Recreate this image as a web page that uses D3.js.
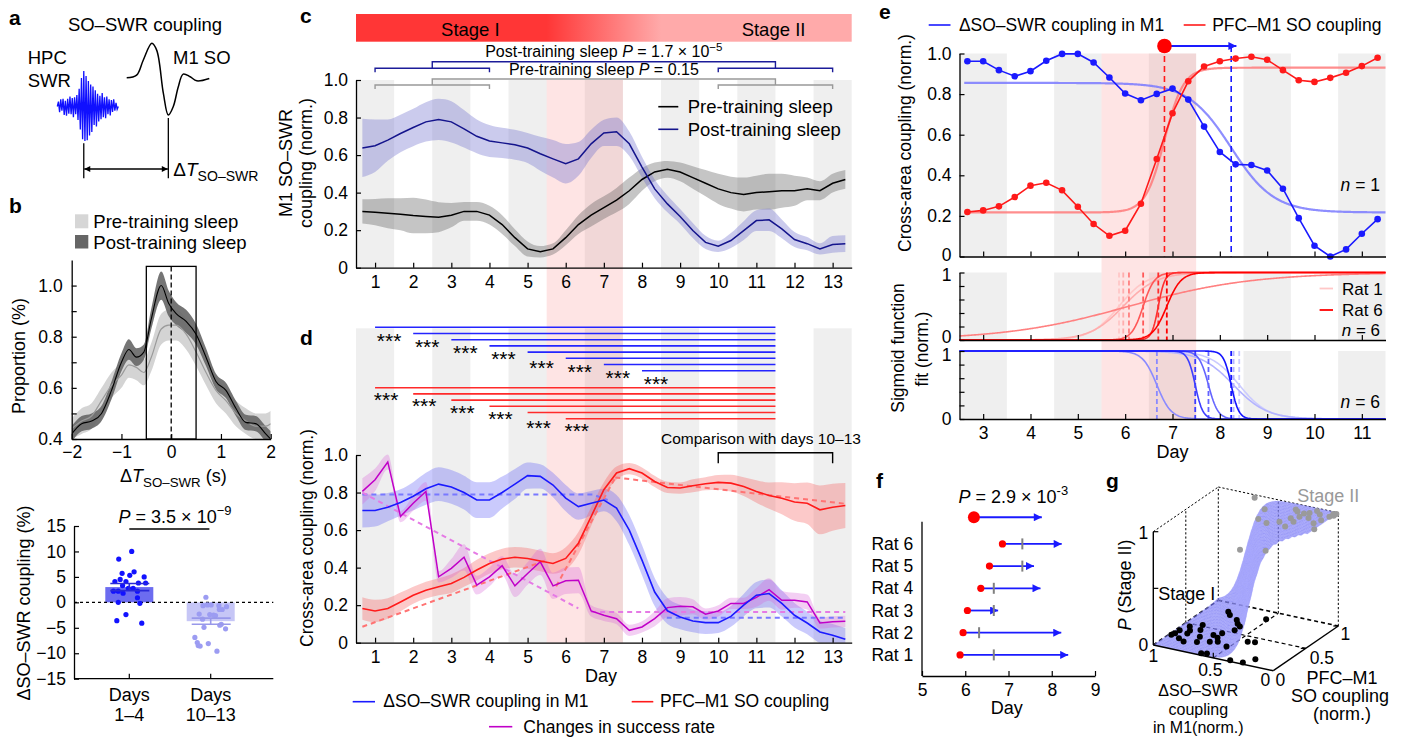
<!DOCTYPE html>
<html>
<head>
<meta charset="utf-8">
<script src="https://cdn.jsdelivr.net/npm/d3@7/dist/d3.min.js"></script>
<style>
html,body{margin:0;padding:0;background:#fff;}
svg{display:block;font-family:"Liberation Sans",Arial,Helvetica,sans-serif;}
</style>
</head>
<body>
<svg id="fig" width="1406" height="737" viewBox="0 0 1406 737"></svg>
<script>
// ======================= DATA =======================
// panel a (schematic traces)
const aSwrTrace = [0,0.14,-0.16,0.2,-0.12,0.22,-0.24,0.16,-0.26,0.22,-0.2,0.28,-0.22,0.24,-0.3,0.26,-0.22,0.32,-0.38,0.5,-0.65,0.8,-0.92,1.0,-0.97,0.86,-0.95,0.72,-0.82,0.62,-0.72,0.56,-0.52,0.46,-0.56,0.36,-0.42,0.3,-0.36,0.38,-0.3,0.26,-0.33,0.28,-0.22,0.2,-0.25,0.18,-0.15,0.2,-0.12,0.1,-0.08,0];
const aSoT = [0,30,50,76,91,111,126,141,156,171,192,212,250];
const aSoV = [-0.02,0.06,0.5,1.0,0.79,-0.48,-1.12,-0.87,-0.29,0.09,0.01,-0.11,-0.04];

// panel b (top)
const bX      = [-2,-1.8,-1.6,-1.4,-1.2,-1.0,-0.85,-0.7,-0.55,-0.4,-0.2,-0.05,0.1,0.3,0.5,0.7,0.9,1.1,1.3,1.5,1.7,1.9,2.0];
const bPost   = [0.42,0.46,0.47,0.50,0.59,0.70,0.75,0.72,0.74,0.87,1.00,0.93,0.89,0.86,0.81,0.72,0.625,0.59,0.52,0.465,0.46,0.42,0.40];
const bPostSE = [0.03,0.03,0.03,0.03,0.035,0.035,0.04,0.035,0.03,0.04,0.055,0.05,0.045,0.045,0.04,0.035,0.03,0.03,0.03,0.03,0.03,0.03,0.03];
const bPre    = [0.44,0.47,0.49,0.55,0.61,0.65,0.69,0.68,0.66,0.72,0.83,0.845,0.845,0.81,0.74,0.66,0.59,0.55,0.50,0.47,0.45,0.45,0.46];
const bPreSE  = [0.04,0.05,0.05,0.05,0.05,0.05,0.05,0.05,0.05,0.055,0.06,0.06,0.06,0.06,0.055,0.05,0.05,0.05,0.05,0.05,0.05,0.05,0.05];
// panel b (bottom)
const bCats  = ["Days 1–4","Days 10–13"];
const bMeans = [3.0,-3.7];
const bSE    = [0.7,0.6];
const bDots1 = [10.0,8.5,5.7,6.0,5.3,5.0,4.5,4.1,4.1,3.8,3.8,3.3,2.75,2.75,2.2,2.2,2.2,1.8,0.9,0.0,-0.2,-2.4,-3.6,-4.1];
const bJit1  = [0.05,-0.22,-0.15,0.10,0.01,0.31,-0.19,-0.30,-0.07,0.19,0.34,-0.14,-0.02,0.08,-0.33,-0.23,0.17,-0.13,0.17,-0.23,0.22,-0.07,-0.26,0.26];
const bDots2 = [1.0,-0.65,-0.5,-0.5,-0.65,-0.85,-1.4,-1.4,-2.3,-2.5,-2.6,-2.4,-4.3,-5.2,-4.9,-6.9,-7.9,-8.5,-8.6,-8.1,-9.6,-3.3,-4.5];
const bJit2  = [-0.10,-0.16,-0.07,0.01,0.17,0.33,0.24,0.18,-0.24,0.06,0.10,-0.02,0.22,0.31,-0.14,-0.33,-0.28,-0.26,-0.22,-0.05,0.13,-0.17,0.19];

// panels c and d: sampled every third of a day
const cdDays = [0.667,1,1.333,1.667,2,2.333,2.667,3,3.333,3.667,4,4.333,4.667,5,5.333,5.667,6,6.333,6.667,7,7.333,7.667,8,8.333,8.667,9,9.333,9.667,10,10.333,10.667,11,11.333,11.667,12,12.333,12.667,13,13.333];
const dayTicks = [1,2,3,4,5,6,7,8,9,10,11,12,13];
const oddDays  = [1,3,5,7,9,11,13];
const cPre    = [0.30,0.296,0.29,0.285,0.278,0.273,0.269,0.28,0.30,0.30,0.28,0.23,0.16,0.10,0.085,0.10,0.16,0.23,0.28,0.32,0.36,0.41,0.47,0.51,0.524,0.51,0.48,0.45,0.42,0.40,0.39,0.40,0.405,0.41,0.41,0.42,0.41,0.45,0.47];
const cPreSE  = [0.065,0.07,0.08,0.085,0.095,0.09,0.08,0.065,0.05,0.05,0.05,0.05,0.045,0.04,0.03,0.03,0.04,0.05,0.06,0.06,0.065,0.07,0.06,0.05,0.045,0.05,0.06,0.07,0.08,0.085,0.09,0.09,0.095,0.09,0.08,0.06,0.05,0.05,0.05];
const cPost   = [0.638,0.65,0.68,0.715,0.747,0.777,0.79,0.777,0.74,0.70,0.675,0.665,0.655,0.638,0.607,0.58,0.554,0.58,0.66,0.718,0.724,0.66,0.536,0.42,0.34,0.273,0.198,0.135,0.114,0.145,0.198,0.251,0.255,0.207,0.15,0.128,0.10,0.124,0.128];
const cPostSE = [0.155,0.14,0.11,0.1,0.1,0.105,0.11,0.11,0.1,0.09,0.085,0.08,0.08,0.08,0.09,0.1,0.105,0.09,0.075,0.07,0.076,0.065,0.055,0.05,0.045,0.04,0.04,0.035,0.03,0.04,0.05,0.055,0.06,0.05,0.04,0.035,0.03,0.045,0.045];

const dSwr    = [0.704,0.704,0.722,0.747,0.78,0.82,0.845,0.83,0.80,0.76,0.76,0.80,0.845,0.89,0.886,0.84,0.77,0.725,0.743,0.76,0.717,0.60,0.44,0.27,0.17,0.137,0.116,0.107,0.107,0.14,0.20,0.253,0.262,0.209,0.146,0.105,0.057,0.04,0.018];
const dSwrSE  = [0.09,0.085,0.075,0.07,0.075,0.085,0.09,0.09,0.09,0.095,0.095,0.085,0.08,0.07,0.065,0.065,0.07,0.07,0.065,0.06,0.07,0.08,0.08,0.075,0.07,0.065,0.06,0.06,0.055,0.055,0.06,0.07,0.075,0.07,0.065,0.06,0.06,0.06,0.06];
const dPfc    = [0.182,0.169,0.182,0.217,0.253,0.28,0.298,0.315,0.348,0.387,0.422,0.446,0.455,0.449,0.435,0.422,0.449,0.53,0.672,0.815,0.904,0.927,0.904,0.859,0.827,0.824,0.836,0.847,0.854,0.85,0.832,0.806,0.784,0.77,0.75,0.743,0.708,0.722,0.731];
const dPfcSE  = [0.06,0.06,0.055,0.05,0.045,0.045,0.045,0.05,0.05,0.055,0.055,0.055,0.055,0.055,0.055,0.055,0.06,0.06,0.05,0.04,0.035,0.03,0.03,0.03,0.03,0.03,0.035,0.035,0.04,0.045,0.05,0.06,0.07,0.085,0.1,0.11,0.13,0.125,0.12];
const dSucc   = [0.806,0.868,0.963,0.672,0.743,0.806,0.351,0.396,0.455,0.307,0.351,0.41,0.303,0.369,0.431,0.303,0.33,0.333,0.169,0.146,0.128,0.066,0.084,0.128,0.187,0.194,0.191,0.152,0.169,0.209,0.209,0.241,0.283,0.226,0.226,0.217,0.105,0.111,0.114];
const dSuccSE = [0.07,0.06,0.04,0.03,0.04,0.05,0.03,0.05,0.07,0.05,0.05,0.05,0.06,0.06,0.07,0.07,0.07,0.07,0.03,0.03,0.03,0.03,0.03,0.04,0.05,0.05,0.04,0.03,0.03,0.03,0.03,0.05,0.06,0.05,0.04,0.04,0.03,0.03,0.03];
// piecewise linear fits (dashed) in d: [day, value] segments
const dSwrFit  = [[[0.667,0.79],[6.7,0.79],[7.1,0.76]], [[8.65,0.133],[13.333,0.133]]];
const dSuccFit = [[[0.667,0.80],[6.33,0.183]], [[6.667,0.163],[13.333,0.163]]];
const dPfcFit  = [[[0.667,0.085],[5.5,0.44]], [[5.75,0.30],[7.3,0.88]], [[7.3,0.88],[13.333,0.74]]];
// significance comparisons (start day -> day 11.5)
const dSigSwrStart = [1,2,3,4,5,6,7,8];
const dSigPfcStart = [1,2,3,4,5,6];
const dSigEnd = 11.5;

// panel e
const eDays = [2.667,3,3.333,3.667,4,4.333,4.667,5,5.333,5.667,6,6.333,6.667,7,7.333,7.667,8,8.333,8.667,9,9.333,9.667,10,10.333,10.667,11,11.333];
const eSwr  = [0.962,0.962,0.918,0.888,0.913,0.964,0.998,0.998,0.956,0.882,0.803,0.770,0.801,0.827,0.773,0.640,0.515,0.454,0.451,0.424,0.334,0.189,0.053,0.0,0.035,0.112,0.184];
const ePfc  = [0.219,0.227,0.247,0.293,0.349,0.363,0.326,0.245,0.160,0.102,0.127,0.260,0.480,0.706,0.863,0.936,0.962,0.975,0.984,0.969,0.918,0.868,0.860,0.880,0.905,0.938,0.979];
const eSwrFit = {hi:0.855, lo:0.217, mid:8.24, s:0.45};
const ePfcFit = {lo:0.217, hi:0.93, mid:6.83, s:0.2};
const eTicks = [3,4,5,6,7,8,9,10,11];
const eOddDays = [3,5,7,9,11];
const ratRedMid  = [5.87,5.96,6.08,6.38,6.70,6.88];
const ratRedS    = [0.3,0.35,1.3,0.12,0.07,0.15];
const ratBlueMid = [8.41,8.29,6.67,7.76,7.48,8.24];
const ratBlueS   = [0.3,0.35,0.15,0.1,0.08,0.08];
const ratShade   = [0.22,0.32,0.5,0.66,0.82,1.0];

// panel f
const fRats   = ["Rat 1","Rat 2","Rat 3","Rat 4","Rat 5","Rat 6"];
const fOnset  = [5.88,5.95,6.05,6.36,6.56,6.86];
const fMarker = [6.66,6.32,6.66,6.66,7.32,7.32];
const fEnd    = [8.38,8.22,6.76,7.74,7.59,8.23];
const fSumOnset = 6.2, fSumEnd = 7.77;

// panel g: (ΔSO–SWR u, PFC–M1 v, P)
const gStage1U = [0.98,0.97,0.94,0.78,0.71,0.83,0.70,0.37,0.22,0.52,0.43,0.38,0.27,0.62,0.58,0.75,0.84,0.67,0.62,0.79,0.87,0.67,0.52,0.89,0.97,0.62,0.84,0.66,0.90,0.66,0.62,0.90];
const gStage1V = [0.24,0.35,0.45,0.31,0.39,0.84,0.73,0.02,0.13,0.85,0.40,0.42,0.03,0.29,0.05,0.21,0.17,0.45,0.55,0.79,0.52,0.26,0.24,0.32,0.28,0.63,0.43,0.36,0.21,0.67,0.035,0.38];
const gStage2U = [0.67,0.27,0.0,0.29,0.0,0.18,0.2,0.21,0.04,0.02,0.0,0.02,0.21,0.25,0.21,0.14,0.06,0.5,0.36,0.7,0.53,0.3,0.1,0.15,0.45];
const gStage2V = [0.95,0.87,0.93,0.63,0.63,0.89,0.68,0.86,0.81,0.90,0.97,0.96,0.79,0.73,0.57,0.80,0.73,0.79,0.56,0.78,0.86,0.9,0.9,0.95,0.6];
const gStage2P = [1,1,1,1,1,1,1,1,1,1,1,1,1,1,1,1,1,1,1,0.6,0.6,1,1,1,1];
const gFit = {u0:0.2, du:0.57, w:0.06};

// ======================= DRAWING =======================
const svg = d3.select("#fig");
const defs = svg.append("defs");
const BLUE = "#1a1aff", RED = "#ff1a1a", MAG = "#c000c8", NAVY = "#14148c";

function marker(id, color, w, h){
  defs.append("marker").attr("id",id).attr("viewBox","0 0 10 10").attr("refX",10).attr("refY",5)
    .attr("markerWidth",w).attr("markerHeight",h).attr("markerUnits","userSpaceOnUse")
    .attr("orient","auto-start-reverse")
    .append("path").attr("d","M0,0L10,5L0,10z").attr("fill",color);
}
marker("arB", BLUE, 11, 8);
marker("arK", "#000", 8, 6);

function rich(parent, x, y, parts, o={}){
  const fs = o.size||17;
  const t = parent.append("text").attr("x",x).attr("y",y).attr("font-size",fs)
    .attr("text-anchor",o.anchor||"start").attr("fill",o.fill||"#000");
  if (o.weight) t.attr("font-weight",o.weight);
  if (o.rotate) t.attr("transform",`rotate(${o.rotate},${x},${y})`);
  let shift = 0;
  parts.forEach(p=>{
    if (typeof p === "string") p = {t:p};
    const s = t.append("tspan").text(p.t);
    const target = p.sup ? -0.42*fs : p.sub ? 0.28*fs : 0;
    if (target !== shift){ s.attr("dy", target-shift); shift = target; }
    if (p.it) s.attr("font-style","italic");
    if (p.sup || p.sub) s.attr("font-size", fs*(p.sub?0.74:0.72));
  });
  return t;
}
function styleAxis(g, fs=17){
  g.attr("font-family",null).attr("font-size",fs);
  g.select(".domain").attr("stroke","#000").attr("stroke-width",1.3);
  g.selectAll(".tick line").attr("stroke","#000").attr("stroke-width",1.2);
  g.selectAll(".tick text").attr("fill","#000");
  return g;
}
function clip(id,x,y,w,h){ defs.append("clipPath").attr("id",id).append("rect").attr("x",x).attr("y",y).attr("width",w).attr("height",h); }
const fmt1 = d => d===0 ? "0" : d.toFixed(1);

// panel letters
[["a",9,25],["b",9,213],["c",300,23],["d",300,345],["e",879,19],["f",876,488],["g",1106,488]].forEach(([l,x,y])=>{
  svg.append("text").attr("x",x).attr("y",y).attr("font-size",21).attr("font-weight","bold").text(l);
});

// ---------------- Panel a ----------------
{
  const g = svg.append("g");
  rich(g,145,30.7,["SO–SWR coupling"],{size:18.5,anchor:"middle"});
  rich(g,27.7,64,["HPC"],{size:18.5});
  rich(g,27.7,87.3,["SWR"],{size:18.5});
  rich(g,173,64,["M1 SO"],{size:18.5});
  const sx = d3.scaleLinear().domain([0,aSwrTrace.length-1]).range([57.3,118.3]);
  const sy = d3.scaleLinear().domain([-1,1]).range([142,71]);
  g.append("path").attr("d",d3.line().x((d,i)=>sx(i)).y(d=>sy(d))(aSwrTrace))
    .attr("fill","none").attr("stroke","#1010ff").attr("stroke-width",1.3);
  const ox = d3.scaleLinear().domain([0,250]).range([126.7,209.3]);
  const oy = d3.scaleLinear().domain([-1.12,1]).range([115,43.3]);
  g.append("path").attr("d",d3.line().x((d,i)=>ox(aSoT[i])).y(d=>oy(d)).curve(d3.curveCatmullRom)(aSoV))
    .attr("fill","none").attr("stroke","#000").attr("stroke-width",1.5);
  const xPeak = sx(aSwrTrace.indexOf(1.0)), xTr = ox(aSoT[aSoV.indexOf(-1.12)]);
  g.append("line").attr("x1",xPeak).attr("x2",xPeak).attr("y1",143.3).attr("y2",178.3).attr("stroke","#000").attr("stroke-width",1.3);
  g.append("line").attr("x1",xTr).attr("x2",xTr).attr("y1",118).attr("y2",178.3).attr("stroke","#000").attr("stroke-width",1.3);
  g.append("line").attr("x1",xPeak+0.5).attr("x2",xTr-0.5).attr("y1",169).attr("y2",169).attr("stroke","#000").attr("stroke-width",1.3)
    .attr("marker-start","url(#arK)").attr("marker-end","url(#arK)");
  rich(g,173.3,175.5,["Δ",{t:"T",it:true},{t:"SO–SWR",sub:true}],{size:19});
}

// ---------------- Panel b (top) ----------------
{
  const g = svg.append("g");
  const x = d3.scaleLinear().domain([-2,2]).range([71.7,270.7]);
  const y = d3.scaleLinear().domain([0.4,1.1]).range([439,260]);
  clip("clipB",71.7,260,199,179);
  g.append("rect").attr("x",75).attr("y",214.3).attr("width",13.3).attr("height",14).attr("fill","#d6d6d6");
  g.append("rect").attr("x",75).attr("y",235).attr("width",13.3).attr("height",13.5).attr("fill","#666");
  rich(g,93.3,227.7,["Pre-training sleep"],{size:18.5});
  rich(g,93.3,249,["Post-training sleep"],{size:18.5});
  const idx = d3.range(bX.length);
  const pg = g.append("g").attr("clip-path","url(#clipB)");
  pg.append("path").attr("d",d3.area().x(i=>x(bX[i])).y0(i=>y(bPre[i]-bPreSE[i])).y1(i=>y(bPre[i]+bPreSE[i])).curve(d3.curveMonotoneX)(idx)).attr("fill","#d4d4d4");
  pg.append("path").attr("d",d3.area().x(i=>x(bX[i])).y0(i=>y(bPost[i]-bPostSE[i])).y1(i=>y(bPost[i]+bPostSE[i])).curve(d3.curveMonotoneX)(idx)).attr("fill","#666").attr("opacity",0.9);
  pg.append("path").attr("d",d3.line().x(i=>x(bX[i])).y(i=>y(bPre[i])).curve(d3.curveMonotoneX)(idx)).attr("fill","none").attr("stroke","#9a9a9a").attr("stroke-width",1.2);
  pg.append("path").attr("d",d3.line().x(i=>x(bX[i])).y(i=>y(bPost[i])).curve(d3.curveMonotoneX)(idx)).attr("fill","none").attr("stroke","#000").attr("stroke-width",1.1);
  g.append("rect").attr("x",x(-0.5)).attr("y",y(1.075)).attr("width",x(0.5)-x(-0.5)).attr("height",y(0.4)-y(1.075))
    .attr("fill","none").attr("stroke","#000").attr("stroke-width",1.3);
  g.append("line").attr("x1",x(0)).attr("x2",x(0)).attr("y1",y(1.075)).attr("y2",y(0.4)).attr("stroke","#000").attr("stroke-width",1.3).attr("stroke-dasharray","5,3");
  styleAxis(g.append("g").attr("transform","translate(0,439)").call(d3.axisBottom(x).tickValues([-2,-1,0,1,2]).tickSizeInner(-5).tickSizeOuter(0).tickPadding(7).tickFormat(d3.format("d"))),17.5);
  styleAxis(g.append("g").attr("transform","translate(71.7,0)").call(d3.axisLeft(y).tickValues([0.4,0.5,0.6,0.7,0.8,0.9,1.0]).tickSizeInner(-5).tickSizeOuter(0).tickPadding(9).tickFormat(d=>Math.round(d*10)%2===0?d.toFixed(1):"")),17.5);
  rich(g,25,356,["Proportion (%)"],{size:18,anchor:"middle",rotate:-90});
  rich(g,120,481.7,["Δ",{t:"T",it:true},{t:"SO–SWR",sub:true},{t:" (s)"}],{size:18});
}

// ---------------- Panel b (bottom) ----------------
{
  const g = svg.append("g");
  const y = d3.scaleLinear().domain([-15,15]).range([678.7,526]);
  const xc = d3.scaleLinear().domain([0,1]).range([129.3,210.7]);
  const bw = 48;
  const fills = ["#6c6cf0","#c6c6f6"], ebc = ["#2a2ad8","#9898ea"], dotc = ["#1212ff","#9c9cf2"];
  bMeans.forEach((m,i)=>{
    g.append("rect").attr("x",xc(i)-bw/2).attr("width",bw).attr("y",Math.min(y(0),y(m))).attr("height",Math.abs(y(m)-y(0))).attr("fill",fills[i]);
  });
  g.append("line").attr("x1",74).attr("x2",273.3).attr("y1",y(0)).attr("y2",y(0)).attr("stroke","#000").attr("stroke-width",1.3).attr("stroke-dasharray","3,3");
  [[bDots1,bJit1],[bDots2,bJit2]].forEach(([vals,jit],i)=>{
    vals.forEach((v,k)=>g.append("circle").attr("cx",xc(i)+jit[k]*bw).attr("cy",y(v)).attr("r",2.6).attr("fill",dotc[i]));
  });
  bMeans.forEach((m,i)=>{
    const lo=m-bSE[i], hi=m+bSE[i];
    g.append("line").attr("x1",xc(i)).attr("x2",xc(i)).attr("y1",y(lo)).attr("y2",y(hi)).attr("stroke",ebc[i]).attr("stroke-width",1.6);
    [lo,hi].forEach(v=>g.append("line").attr("x1",xc(i)-19).attr("x2",xc(i)+20).attr("y1",y(v)).attr("y2",y(v)).attr("stroke",ebc[i]).attr("stroke-width",1.6));
  });
  styleAxis(g.append("g").attr("transform","translate(74,0)").call(d3.axisLeft(y).tickValues([-15,-10,-5,0,5,10,15]).tickSizeInner(-5).tickSizeOuter(0).tickPadding(8).tickFormat(d3.format("d"))),17.5);
  const ax = g.append("g").attr("transform","translate(0,678.7)");
  ax.append("line").attr("x1",74).attr("x2",273.3).attr("stroke","#000").attr("stroke-width",1.3);
  bCats.forEach((c,i)=>{
    ax.append("line").attr("x1",xc(i)).attr("x2",xc(i)).attr("y1",0).attr("y2",-5).attr("stroke","#000").attr("stroke-width",1.2);
    const parts = c.split(" ");
    rich(g,xc(i),700.7,[parts[0]],{size:18,anchor:"middle"});
    rich(g,xc(i),720.7,[parts[1]],{size:18,anchor:"middle"});
  });
  g.append("line").attr("x1",xc(0)).attr("x2",xc(1)-1.3).attr("y1",529).attr("y2",529).attr("stroke","#000").attr("stroke-width",1.3);
  rich(g,175,522.7,[{t:"P",it:true}," = 3.5 × 10",{t:"−9",sup:true}],{size:18,anchor:"middle"});
  rich(g,30,603,["ΔSO–SWR coupling (%)"],{size:18,anchor:"middle",rotate:-90});
}

// ---------------- Panels c & d ----------------
const cX = d3.scaleLinear().domain([0.5,13.5]).range([356,851.7]);
const cY = d3.scaleLinear().domain([0,1]).range([267.7,80]);
const dY = d3.scaleLinear().domain([0,1]).range([642.7,455]);
{
  const g = svg.append("g");
  oddDays.forEach(d=>{
    g.append("rect").attr("x",cX(d-0.5)).attr("width",cX(d+0.5)-cX(d-0.5)).attr("y",80).attr("height",267.7-80).attr("fill","#efefef");
    g.append("rect").attr("x",cX(d-0.5)).attr("width",cX(d+0.5)-cX(d-0.5)).attr("y",328.3).attr("height",642.7-328.3).attr("fill","#efefef");
  });
  g.append("rect").attr("x",cX(5.5)).attr("width",cX(7.5)-cX(5.5)).attr("y",80).attr("height",642.7-80).attr("fill","rgb(250,120,120)").attr("opacity",0.2);
  const sOff = v => (cX(v)-cX(0.5))/(cX(13.5)-cX(0.5));
  const grad = defs.append("linearGradient").attr("id","stageGrad").attr("x1",0).attr("x2",1).attr("y1",0).attr("y2",0);
  grad.append("stop").attr("offset",0).attr("stop-color","#ff3636");
  grad.append("stop").attr("offset",sOff(5.5)).attr("stop-color","#ff3636");
  grad.append("stop").attr("offset",sOff(8.5)).attr("stop-color","#ffaaaa");
  grad.append("stop").attr("offset",1).attr("stop-color","#ffaaaa");
  g.append("rect").attr("x",cX(0.5)).attr("width",cX(13.5)-cX(0.5)).attr("y",14).attr("height",27.7).attr("fill","url(#stageGrad)");
  rich(g,cX(3.5),35.5,["Stage I"],{size:18.5,anchor:"middle"});
  rich(g,cX(11.45),35.5,["Stage II"],{size:18.5,anchor:"middle"});
  function bracket(yS,yM,col){
    const t=4;
    [[1,4],[10,13]].forEach(([a,b])=>{
      g.append("path").attr("d",`M${cX(a)},${yS+t}V${yS}H${cX(b)}V${yS+t}`).attr("fill","none").attr("stroke",col).attr("stroke-width",1.4);
    });
    g.append("path").attr("d",`M${cX(2.5)},${yS}V${yM}H${cX(11.5)}V${yS}`).attr("fill","none").attr("stroke",col).attr("stroke-width",1.4);
  }
  bracket(68.3,61.7,"#1c1c99");
  bracket(85,79,"#999");
  rich(g,cX(7),57.3,["Post-training sleep ",{t:"P",it:true}," = 1.7 × 10",{t:"−5",sup:true}],{size:16,anchor:"middle"});
  rich(g,cX(7),75,["Pre-training sleep ",{t:"P",it:true}," = 0.15"],{size:16,anchor:"middle"});

  clip("clipC",356,80,495.7,187.7);
  const pc = g.append("g").attr("clip-path","url(#clipC)");
  const idx = d3.range(cdDays.length);
  const band = (sc,m,se)=>d3.area().x(i=>cX(cdDays[i])).y0(i=>sc(m[i]-se[i])).y1(i=>sc(m[i]+se[i])).curve(d3.curveMonotoneX)(idx);
  const ln = (sc,m)=>d3.line().x(i=>cX(cdDays[i])).y(i=>sc(m[i]))(idx);
  pc.append("path").attr("d",band(cY,cPre,cPreSE)).attr("fill","rgb(90,90,90)").attr("opacity",0.35);
  pc.append("path").attr("d",band(cY,cPost,cPostSE)).attr("fill","rgb(110,110,205)").attr("opacity",0.36);
  pc.append("path").attr("d",ln(cY,cPre)).attr("fill","none").attr("stroke","#000").attr("stroke-width",1.5);
  pc.append("path").attr("d",ln(cY,cPost)).attr("fill","none").attr("stroke",NAVY).attr("stroke-width",1.5);
  g.append("line").attr("x1",658.3).attr("x2",678.3).attr("y1",106.7).attr("y2",106.7).attr("stroke","#000").attr("stroke-width",1.6);
  g.append("line").attr("x1",658.3).attr("x2",678.3).attr("y1",129.3).attr("y2",129.3).attr("stroke",NAVY).attr("stroke-width",1.6);
  rich(g,687.7,113.3,["Pre-training sleep"],{size:18.5});
  rich(g,687.7,136,["Post-training sleep"],{size:18.5});
  styleAxis(g.append("g").attr("transform","translate(0,267.7)").call(d3.axisBottom(cX).tickValues(dayTicks).tickSizeInner(-5).tickSizeOuter(0).tickPadding(7.5).tickFormat(d3.format("d"))),17.5);
  styleAxis(g.append("g").attr("transform","translate(356,0)").call(d3.axisLeft(cY).tickValues([0,0.2,0.4,0.6,0.8,1]).tickSizeInner(-5).tickSizeOuter(0).tickPadding(8).tickFormat(fmt1)),17.5);
  rich(g,291.7,163,["M1 SO–SWR"],{size:18,anchor:"middle",rotate:-90});
  rich(g,311.5,163,["coupling (norm.)"],{size:18,anchor:"middle",rotate:-90});

  const swrY0 = 327.3, swrStep = 6.2, pfcY0 = 387.7, pfcStep = 6.2;
  dSigSwrStart.forEach((s,k)=>{
    const yy = swrY0 + k*swrStep;
    g.append("line").attr("x1",cX(s)).attr("x2",cX(dSigEnd)).attr("y1",yy).attr("y2",yy).attr("stroke","#2424ff").attr("stroke-width",1.6);
    rich(g,cX(s)+14,yy+20.5+(k===4?2.5:0),["***"],{size:21,anchor:"middle"});
  });
  dSigPfcStart.forEach((s,k)=>{
    const yy = pfcY0 + k*pfcStep;
    g.append("line").attr("x1",cX(s)).attr("x2",cX(dSigEnd)).attr("y1",yy).attr("y2",yy).attr("stroke","#ff2a2a").attr("stroke-width",1.6);
    rich(g,cX(s)+11,yy+19.5+(k===4?2.5:0),["***"],{size:21,anchor:"middle"});
  });
  g.append("path").attr("d",`M${cX(10)},463.3V452.7H${cX(13)}V463.3`).attr("fill","none").attr("stroke","#000").attr("stroke-width",1.4);
  rich(g,661,444,["Comparison with days 10–13"],{size:15.5});

  clip("clipD",356,328.3,495.7,314.4);
  const pd = g.append("g").attr("clip-path","url(#clipD)");
  pd.append("path").attr("d",band(dY,dSwr,dSwrSE)).attr("fill","rgb(95,95,245)").attr("opacity",0.33);
  pd.append("path").attr("d",band(dY,dPfc,dPfcSE)).attr("fill","rgb(245,90,90)").attr("opacity",0.33);
  pd.append("path").attr("d",band(dY,dSucc,dSuccSE)).attr("fill","rgb(215,95,215)").attr("opacity",0.3);
  const fitLine = d3.line().x(d=>cX(d[0])).y(d=>dY(d[1]));
  [[dSwrFit,"#7878ff"],[dSuccFit,"#e57ae5"],[dPfcFit,"#ff7373"]].forEach(([segs,col])=>{
    segs.forEach(s=>pd.append("path").attr("d",fitLine(s)).attr("fill","none").attr("stroke",col).attr("stroke-width",2).attr("stroke-dasharray","5,4"));
  });
  pd.append("path").attr("d",ln(dY,dSucc)).attr("fill","none").attr("stroke",MAG).attr("stroke-width",1.5);
  pd.append("path").attr("d",ln(dY,dPfc)).attr("fill","none").attr("stroke",RED).attr("stroke-width",1.6);
  pd.append("path").attr("d",ln(dY,dSwr)).attr("fill","none").attr("stroke",BLUE).attr("stroke-width",1.6);
  styleAxis(g.append("g").attr("transform","translate(0,642.7)").call(d3.axisBottom(cX).tickValues(dayTicks).tickSizeInner(-5).tickSizeOuter(0).tickPadding(8).tickFormat(d3.format("d"))),17.5);
  styleAxis(g.append("g").attr("transform","translate(356,0)").call(d3.axisLeft(dY).tickValues([0,0.2,0.4,0.6,0.8,1]).tickSizeInner(-5).tickSizeOuter(0).tickPadding(8).tickFormat(fmt1)),17.5);
  rich(g,601,681.7,["Day"],{size:18,anchor:"middle"});
  rich(g,313,538,["Cross-area coupling (norm.)"],{size:17.5,anchor:"middle",rotate:-90});
  [[352.7,375,701.7,BLUE,383.3,707.3,"ΔSO–SWR coupling in M1"],[631.7,653.3,701.7,RED,660,707.3,"PFC–M1 SO coupling"],[489,512.3,726.7,MAG,523.3,733,"Changes in success rate"]].forEach(([x1,x2,yy,col,tx,ty,lab])=>{
    g.append("line").attr("x1",x1).attr("x2",x2).attr("y1",yy).attr("y2",yy).attr("stroke",col).attr("stroke-width",1.6);
    rich(g,tx,ty,[lab],{size:17.5});
  });
}

// ---------------- Panel e ----------------
{
  const g = svg.append("g");
  const x = d3.scaleLinear().domain([2.5,11.5]).range([959.5,1385.5]);
  const yT = d3.scaleLinear().domain([0,1]).range([256.5,53.5]);
  const yM = d3.scaleLinear().domain([0,1]).range([340,272.5]);
  const yB = d3.scaleLinear().domain([0,1]).range([419,351]);
  [[53.5,256.5],[272.5,340],[351,419]].forEach(([t,b])=>{
    eOddDays.forEach(d=>g.append("rect").attr("x",x(d-0.5)).attr("width",x(d+0.5)-x(d-0.5)).attr("y",t).attr("height",b-t).attr("fill","#efefef"));
  });
  g.append("rect").attr("x",x(5.5)).attr("width",x(7.5)-x(5.5)).attr("y",53.5).attr("height",419-53.5).attr("fill","rgb(250,120,120)").attr("opacity",0.2);
  const fitDays = d3.range(2.6,11.5001,0.02);
  const sigUp = (p,d)=>p.lo+(p.hi-p.lo)/(1+Math.exp(-(d-p.mid)/p.s));
  const sigDn = (p,d)=>p.lo+(p.hi-p.lo)/(1+Math.exp((d-p.mid)/p.s));
  g.append("path").attr("d",d3.line().x(d=>x(d)).y(d=>yT(sigDn(eSwrFit,d)))(fitDays)).attr("fill","none").attr("stroke","#7a7aff").attr("stroke-width",2.2).attr("opacity",0.85);
  g.append("path").attr("d",d3.line().x(d=>x(d)).y(d=>yT(sigUp(ePfcFit,d)))(fitDays)).attr("fill","none").attr("stroke","#ff7a7a").attr("stroke-width",2.2).attr("opacity",0.85);
  g.append("line").attr("x1",x(ePfcFit.mid)).attr("x2",x(ePfcFit.mid)).attr("y1",yT(1.037)).attr("y2",256.5).attr("stroke",RED).attr("stroke-width",1.6).attr("stroke-dasharray","6,4");
  g.append("line").attr("x1",x(eSwrFit.mid)).attr("x2",x(eSwrFit.mid)).attr("y1",yT(1.037)).attr("y2",256.5).attr("stroke",BLUE).attr("stroke-width",1.6).attr("stroke-dasharray","6,4");
  g.append("line").attr("x1",x(ePfcFit.mid)+6).attr("x2",x(8.35)).attr("y1",yT(1.037)).attr("y2",yT(1.037)).attr("stroke",BLUE).attr("stroke-width",1.8).attr("marker-end","url(#arB)");
  g.append("circle").attr("cx",x(ePfcFit.mid)).attr("cy",yT(1.037)).attr("r",7.3).attr("fill","#ff0000");
  const ix = d3.range(eDays.length);
  [[eSwr,BLUE],[ePfc,RED]].forEach(([vals,col])=>{
    g.append("path").attr("d",d3.line().x(i=>x(eDays[i])).y(i=>yT(vals[i]))(ix)).attr("fill","none").attr("stroke",col).attr("stroke-width",1.6);
    ix.forEach(i=>g.append("circle").attr("cx",x(eDays[i])).attr("cy",yT(vals[i])).attr("r",3.3).attr("fill",col));
  });
  const sigDays = d3.range(2.5,11.5001,0.02);
  const redC = a=>d3.interpolateRgb("#ffffff","#ff0000")(a);
  const bluC = a=>d3.interpolateRgb("#ffffff","#1414ff")(a);
  ratRedMid.forEach((m,i)=>{
    const p={lo:0,hi:1,mid:m,s:ratRedS[i]};
    g.append("path").attr("d",d3.line().x(d=>x(d)).y(d=>yM(sigUp(p,d)))(sigDays)).attr("fill","none").attr("stroke",redC(ratShade[i])).attr("stroke-width",1.6);
    g.append("line").attr("x1",x(m)).attr("x2",x(m)).attr("y1",yM(1)).attr("y2",yM(0)).attr("stroke",redC(ratShade[i])).attr("stroke-width",1.8).attr("stroke-dasharray","5,3");
  });
  ratBlueMid.forEach((m,i)=>{
    const p={lo:0,hi:1,mid:m,s:ratBlueS[i]};
    g.append("path").attr("d",d3.line().x(d=>x(d)).y(d=>yB(sigDn(p,d)))(sigDays)).attr("fill","none").attr("stroke",bluC(ratShade[i])).attr("stroke-width",1.6);
    g.append("line").attr("x1",x(m)).attr("x2",x(m)).attr("y1",yB(1)).attr("y2",yB(0)).attr("stroke",bluC(ratShade[i])).attr("stroke-width",1.8).attr("stroke-dasharray","5,3");
  });
  const noLab = d3.axisBottom(x).tickValues(eTicks).tickSizeInner(-5).tickSizeOuter(0).tickFormat("");
  styleAxis(g.append("g").attr("transform","translate(0,256.5)").call(noLab));
  styleAxis(g.append("g").attr("transform","translate(0,340)").call(noLab));
  styleAxis(g.append("g").attr("transform","translate(0,419)").call(d3.axisBottom(x).tickValues(eTicks).tickSizeInner(-5).tickSizeOuter(0).tickPadding(8).tickFormat(d3.format("d"))),17.5);
  const axT = styleAxis(g.append("g").attr("transform","translate(959.5,0)").call(d3.axisLeft(yT).tickValues([0,0.2,0.4,0.6,0.8,1]).tickSizeInner(-5).tickSizeOuter(0).tickPadding(8).tickFormat(fmt1)),17.5);
  axT.selectAll(".tick text").attr("transform",d=>d===0?"translate(0,-1.5)":null);
  const fmt01 = d=>(d===0||d===1)?d3.format("d")(d):"";
  const axM = styleAxis(g.append("g").attr("transform","translate(959.5,0)").call(d3.axisLeft(yM).tickValues([0,0.2,0.4,0.6,0.8,1]).tickSizeInner(-5).tickSizeOuter(0).tickPadding(8).tickFormat(fmt01)),17.5);
  axM.selectAll(".tick text").attr("transform",d=>d===0?"translate(0,-3)":d===1?"translate(0,2)":null);
  const axB = styleAxis(g.append("g").attr("transform","translate(959.5,0)").call(d3.axisLeft(yB).tickValues([0,0.2,0.4,0.6,0.8,1]).tickSizeInner(-5).tickSizeOuter(0).tickPadding(8).tickFormat(fmt01)),17.5);
  axB.selectAll(".tick text").attr("transform",d=>d===1?"translate(0,4)":null);
  rich(g,1172.5,458,["Day"],{size:18,anchor:"middle"});
  rich(g,911,143,["Cross-area coupling (norm.)"],{size:17.5,anchor:"middle",rotate:-90});
  rich(g,904,348,["Sigmoid function"],{size:17.5,anchor:"middle",rotate:-90});
  rich(g,928,349,["fit (norm.)"],{size:17.5,anchor:"middle",rotate:-90});
  g.append("line").attr("x1",928.7).attr("x2",950.5).attr("y1",25).attr("y2",25).attr("stroke",BLUE).attr("stroke-width",1.6);
  rich(g,958.9,31,["ΔSO–SWR coupling in M1"],{size:17.5});
  g.append("line").attr("x1",1183.7).attr("x2",1205.5).attr("y1",25).attr("y2",25).attr("stroke",RED).attr("stroke-width",1.6);
  rich(g,1212.2,31,["PFC–M1 SO coupling"],{size:17.5});
  rich(g,1380,191,[{t:"n",it:true}," = 1"],{size:17.5,anchor:"end"});
  g.append("line").attr("x1",1319.6).attr("x2",1333).attr("y1",288.5).attr("y2",288.5).attr("stroke",redC(ratShade[0])).attr("stroke-width",1.8);
  g.append("line").attr("x1",1319.6).attr("x2",1333).attr("y1",310).attr("y2",310).attr("stroke",redC(1)).attr("stroke-width",1.8);
  rich(g,1342,295,["Rat 1"],{size:17});
  rich(g,1342,316,["Rat 6"],{size:17});
  rich(g,1380,335.5,[{t:"n",it:true}," = 6"],{size:17,anchor:"end"});
  rich(g,1380,408,[{t:"n",it:true}," = 6"],{size:17.5,anchor:"end"});
}

// ---------------- Panel f ----------------
{
  const g = svg.append("g");
  const x = d3.scaleLinear().domain([5,9]).range([922,1095]);
  const y = d3.scaleLinear().domain([0.05,7]).range([676,521.7]);
  rich(g,1013.3,502.7,[{t:"P",it:true}," = 2.9 × 10",{t:"-3",sup:true}],{size:18,anchor:"middle"});
  const ySum = y(7.2);
  g.append("line").attr("x1",x(fSumOnset)).attr("x2",x(fSumEnd)).attr("y1",ySum).attr("y2",ySum).attr("stroke",BLUE).attr("stroke-width",1.8).attr("marker-end","url(#arB)");
  g.append("circle").attr("cx",x(fSumOnset)).attr("cy",ySum).attr("r",6).attr("fill","#ff0000");
  fRats.forEach((r,i)=>{
    const yy = y(i+1);
    g.append("line").attr("x1",x(fOnset[i])).attr("x2",x(fEnd[i])).attr("y1",yy).attr("y2",yy).attr("stroke",BLUE).attr("stroke-width",1.8).attr("marker-end","url(#arB)");
    g.append("line").attr("x1",x(fMarker[i])).attr("x2",x(fMarker[i])).attr("y1",yy-5.5).attr("y2",yy+5.5).attr("stroke","#808080").attr("stroke-width",2);
    g.append("circle").attr("cx",x(fOnset[i])).attr("cy",yy).attr("r",3.6).attr("fill","#ff0000");
    rich(g,913.3,yy+6,[r],{size:17.5,anchor:"end"});
  });
  styleAxis(g.append("g").attr("transform","translate(0,676)").call(d3.axisBottom(x).tickValues([5,6,7,8,9]).tickSizeInner(-5).tickSizeOuter(0).tickPadding(8).tickFormat(d3.format("d"))),17.5);
  g.append("line").attr("x1",922).attr("x2",922).attr("y1",521.7).attr("y2",676).attr("stroke","#000").attr("stroke-width",1.3);
  rich(g,1006.7,714,["Day"],{size:18,anchor:"middle"});
}

// ---------------- Panel g ----------------
{
  const g = svg.append("g");
  const pu = d3.scaleLinear().domain([1,0]).range([0,1]);
  const P3 = (u,v,p)=>[1153.3 + pu(u)*120 + v*65, 645 + pu(u)*25.7 - v*44.7 - p*113.3];
  const seg = (a,b,o)=>{ const A=P3(...a), B=P3(...b);
    return g.append("line").attr("x1",A[0]).attr("y1",A[1]).attr("x2",B[0]).attr("y2",B[1]).attr("stroke","#000").attr("stroke-width",o.w||1).attr("stroke-dasharray",o.dash||null); };
  const dot = {w:1,dash:"2.2,2"};
  seg([1,0,1],[1,1,1],dot); seg([1,1,1],[0,1,1],dot);
  seg([1,1,0],[1,1,1],dot); seg([0,1,0],[0,1,1],dot);
  seg([1,0.5,0],[1,0.5,1],dot); seg([0.5,1,0],[0.5,1,1],dot);
  const fl = {w:1.6,dash:"4,3"};
  seg([1,1,0],[0,1,0],fl); seg([1,0,0],[1,1,0],fl);
  seg([1,0.5,0],[0,0.5,0],{w:1.2,dash:"4,3"}); seg([0.5,0,0],[0.5,1,0],{w:1.2,dash:"4,3"});
  const Pf = (u,v)=>1/(1+Math.exp((u-(gFit.u0+gFit.du*v))/gFit.w));
  const N = 40, quads = [];
  for (let i=0;i<N;i++) for (let j=0;j<N;j++){
    const u0=i/N,u1=(i+1)/N,v0=j/N,v1=(j+1)/N, uc=(u0+u1)/2, vc=(v0+v1)/2;
    if (uc/0.28 + vc/0.55 < 1) continue;
    quads.push({depth:uc+vc, pts:[[u0,v0],[u1,v0],[u1,v1],[u0,v1]].map(([u,v])=>P3(u,v,Pf(u,v)))});
  }
  quads.sort((a,b)=>b.depth-a.depth);
  const sg = g.append("g");
  quads.forEach(q=>sg.append("path").attr("d","M"+q.pts.map(p=>p.join(",")).join("L")+"Z")
    .attr("fill","#5f5ff0").attr("fill-opacity",0.6).attr("stroke","#b4b4ff").attr("stroke-width",0.35).attr("stroke-opacity",0.6));
  gStage1U.forEach((u,i)=>{ const p=P3(u,gStage1V[i],0); g.append("circle").attr("cx",p[0]).attr("cy",p[1]).attr("r",3).attr("fill","#000"); });
  gStage2U.forEach((u,i)=>{ const p=P3(u,gStage2V[i],gStage2P[i]); g.append("circle").attr("cx",p[0]).attr("cy",p[1]).attr("r",3).attr("fill","#9a9a9a"); });
  const ax = {w:1.4};
  seg([1,0,0],[1,0,1],ax); seg([1,0,0],[0,0,0],ax); seg([0,0,0],[0,1,0],ax);
  [[1,0,1],[1,0,0.5]].forEach(t=>{ const p=P3(...t); g.append("line").attr("x1",p[0]).attr("x2",p[0]+5).attr("y1",p[1]).attr("y2",p[1]).attr("stroke","#000").attr("stroke-width",1.2); });
  [0.5].forEach(u=>{ const p=P3(u,0,0); g.append("line").attr("x1",p[0]).attr("x2",p[0]).attr("y1",p[1]).attr("y2",p[1]-5).attr("stroke","#000").attr("stroke-width",1.2); });
  [0.5,1].forEach(v=>{ const p=P3(0,v,0); g.append("line").attr("x1",p[0]).attr("x2",p[0]-5).attr("y1",p[1]).attr("y2",p[1]).attr("stroke","#000").attr("stroke-width",1.2); });
  let p;
  p=P3(1,0,1); rich(g,p[0]-5,p[1]+7,["1"],{size:17.5,anchor:"end"});
  p=P3(1,0,0); rich(g,p[0]-5,p[1]+6,["0"],{size:17.5,anchor:"end"});
  p=P3(1,0,0); rich(g,p[0],p[1]+17,["1"],{size:17.5,anchor:"middle"});
  p=P3(0.5,0,0); rich(g,p[0]-3,p[1]+18,["0.5"],{size:17.5,anchor:"middle"});
  p=P3(0,0,0); rich(g,p[0]-8,p[1]+15,["0"],{size:17.5,anchor:"middle"});
  p=P3(0,0,0); rich(g,p[0]+7,p[1]+15,["0"],{size:17.5,anchor:"middle"});
  p=P3(0,0.5,0); rich(g,p[0]+16,p[1]+16,["0.5"],{size:17.5,anchor:"middle"});
  p=P3(0,1,0); rich(g,p[0]+7,p[1]+14,["1"],{size:17.5,anchor:"middle"});
  rich(g,1328.3,501.7,["Stage II"],{size:18,anchor:"middle",fill:"#999"});
  rich(g,1186.7,600,["Stage I"],{size:18,anchor:"middle"});
  rich(g,1131,585,[{t:"P",it:true}," (Stage II)"],{size:18,anchor:"middle",rotate:-90});
  rich(g,1198.3,696,["ΔSO–SWR"],{size:16,anchor:"middle"});
  rich(g,1198.3,714.5,["coupling"],{size:16,anchor:"middle"});
  rich(g,1198.3,733,["in M1(norm.)"],{size:16,anchor:"middle"});
  rich(g,1342,684,["PFC–M1"],{size:18,anchor:"middle"});
  rich(g,1340,702,["SO coupling"],{size:18,anchor:"middle"});
  rich(g,1342,720,["(norm.)"],{size:18,anchor:"middle"});
}
</script>
</body>
</html>
